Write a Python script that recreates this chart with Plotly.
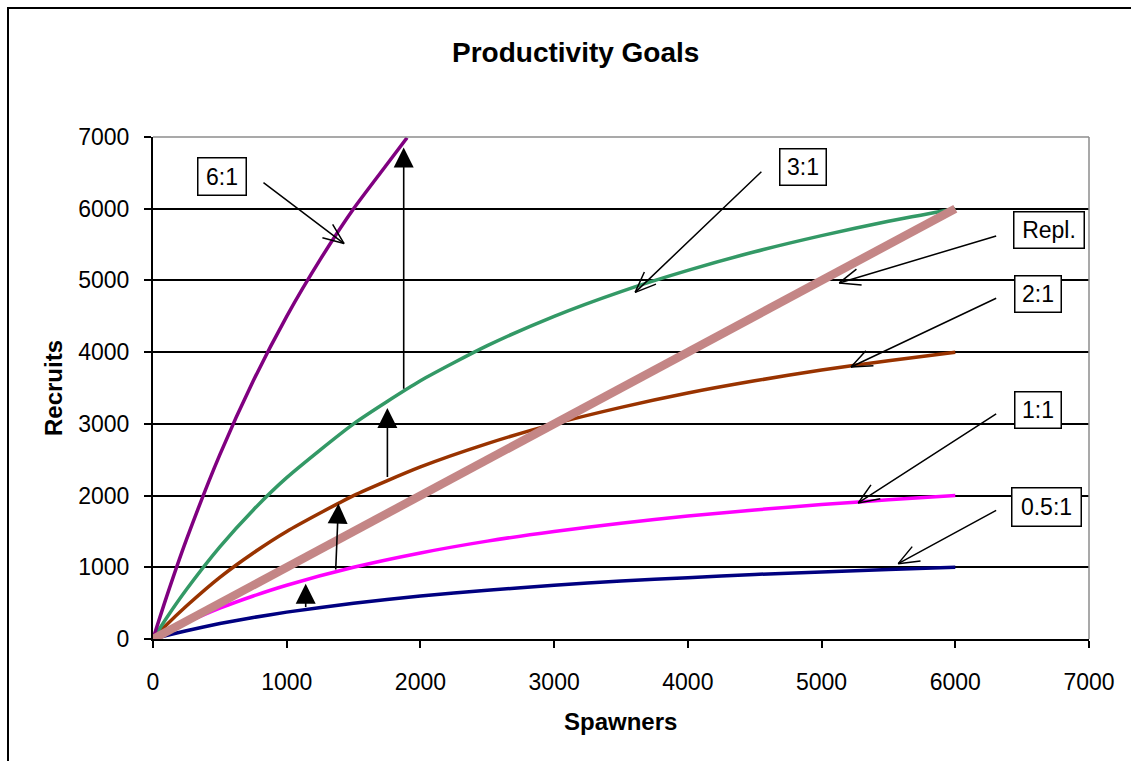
import math
import plotly.graph_objects as go

# Spawner levels at which recruitment was read for each productivity curve
spawners = [0, 100, 250, 500, 750, 1000, 1500, 2000, 2500, 3000, 3500, 4000, 4500, 5000, 5500, 6000]
recruits_half = [0, 48, 115, 215, 300, 375, 500, 600, 680, 750, 810, 855, 900, 935, 970, 1000]
recruits_one = [0, 97, 230, 430, 600, 750, 1000, 1200, 1365, 1500, 1615, 1715, 1800, 1875, 1940, 2000]
recruits_two = [0, 195, 460, 860, 1200, 1500, 2000, 2400, 2725, 3000, 3230, 3430, 3600, 3750, 3880, 4000]
recruits_three = [0, 290, 690, 1285, 1800, 2250, 3000, 3600, 4090, 4500, 4845, 5140, 5400, 5625, 5825, 6000]

spawners_six = [0, 100, 250, 500, 750, 1000, 1250, 1500, 1750, 1900]
recruits_six = [0, 580, 1385, 2570, 3600, 4500, 5290, 6000, 6620, 6990]

# Replacement line (recruits = spawners)
repl_spawners = [0, 6000]
repl_recruits = [0, 6000]

# Curve labels and the pointer arrows leading to each curve
labels = ["6:1", "3:1", "Repl.", "2:1", "1:1", "0.5:1"]
label_x = [514, 4864, 6703, 6615, 6615, 6681]
label_y = [6445, 6588, 5702, 4807, 3189, 1837]
label_w = [50, 48, 72, 48, 48, 71]
label_h = [39, 38, 38, 38, 38, 40]
pointer_from_x = [815, 4561, 6317, 6317, 6317, 6317]
pointer_from_y = [6380, 6536, 5626, 4761, 3152, 1805]
pointer_to_x = [1429, 3606, 5132, 5220, 5274, 5573]
pointer_to_y = [5514, 4833, 4965, 3793, 1897, 1051]

# Goal arrows stepping up from one productivity curve to the next
goal_from_x = [1142, 1366, 1753, 1875]
goal_from_y = [424, 948, 2237, 3468]
goal_to_x = [1142, 1387, 1753, 1875]
goal_to_y = [772, 1888, 3222, 6853]

FONT = "Liberation Sans, Arial, sans-serif"
W, H = 1131, 761
ML, MR, MT, MB = 153, 42, 137, 122
PW, PH = W - ML - MR, H - MT - MB
XMAX, YMAX = 7000, 7000

fig = go.Figure()

series = [
    ("0.5:1", spawners, recruits_half, "#000080", 3.5),
    ("1:1", spawners, recruits_one, "#FF00FF", 3.5),
    ("2:1", spawners, recruits_two, "#993300", 3.5),
    ("3:1", spawners, recruits_three, "#339966", 3.5),
    ("6:1", spawners_six, recruits_six, "#800080", 3.5),
    ("Repl.", repl_spawners, repl_recruits, "#C48686", 8.5),
]
for name, xs, ys, color, width in series:
    fig.add_trace(go.Scatter(
        x=xs, y=ys, mode="lines", name=name,
        line=dict(color=color, width=width, shape="spline", smoothing=0.6),
        showlegend=False, hoverinfo="skip",
    ))

annotations = []

# Chart title and axis titles
def px_to_paper(px, py):
    return (px - ML) / PW, (H - MB - py) / PH

tx, ty = px_to_paper(575, 53)
annotations.append(dict(text="<b>Productivity Goals</b>", x=tx, y=ty, xref="paper", yref="paper",
                        showarrow=False, xanchor="center", yanchor="middle",
                        font=dict(family=FONT, size=28, color="black")))
sx, sy = px_to_paper(620, 721)
annotations.append(dict(text="<b>Spawners</b>", x=sx, y=sy, xref="paper", yref="paper",
                        showarrow=False, xanchor="center", yanchor="middle",
                        font=dict(family=FONT, size=24, color="black")))
rx, ry = px_to_paper(53, 388)
annotations.append(dict(text="<b>Recruits</b>", x=rx, y=ry, xref="paper", yref="paper",
                        showarrow=False, xanchor="center", yanchor="middle", textangle=-90,
                        font=dict(family=FONT, size=24, color="black")))

# Pointer arrows: shaft plus two open-head wings
kx, ky = PW / XMAX, PH / YMAX
wing_len, wing_ang = 24, math.radians(22)
for fx, fy, tx_, ty_ in zip(pointer_from_x, pointer_from_y, pointer_to_x, pointer_to_y):
    annotations.append(dict(text="", x=tx_, y=ty_, ax=fx, ay=fy, xref="x", yref="y",
                            axref="x", ayref="y", showarrow=True, arrowhead=0,
                            arrowwidth=1.5, arrowcolor="black"))
    dx, dy = (tx_ - fx) * kx, -(ty_ - fy) * ky
    n = math.hypot(dx, dy)
    bx, by = -dx / n, -dy / n
    for sgn in (1, -1):
        a = sgn * wing_ang
        wx = bx * math.cos(a) - by * math.sin(a)
        wy = bx * math.sin(a) + by * math.cos(a)
        annotations.append(dict(text="", x=tx_, y=ty_, ax=wing_len * wx, ay=wing_len * wy,
                                xref="x", yref="y", showarrow=True, arrowhead=0,
                                arrowwidth=1.5, arrowcolor="black"))

# Boxed curve labels
for text, lx, ly, bw, bh in zip(labels, label_x, label_y, label_w, label_h):
    annotations.append(dict(text=text, x=lx, y=ly, xref="x", yref="y", showarrow=False,
                            xanchor="center", yanchor="middle", align="center", valign="middle",
                            width=bw - 3, height=bh - 3, borderpad=0, borderwidth=1.5,
                            bordercolor="black", bgcolor="white",
                            font=dict(family=FONT, size=23, color="black")))

# Filled goal arrows
for fx, fy, tx_, ty_ in zip(goal_from_x, goal_from_y, goal_to_x, goal_to_y):
    annotations.append(dict(text="", x=tx_, y=ty_, ax=fx, ay=fy, xref="x", yref="y",
                            axref="x", ayref="y", showarrow=True, arrowhead=2,
                            arrowsize=2.5, arrowwidth=1.6, arrowcolor="black"))

# Outer chart frame and grey plot-area edges
fx0, fy0 = px_to_paper(8, 8)
fx1, fy1 = px_to_paper(1145, 775)
shapes = [
    dict(type="rect", xref="paper", yref="paper", x0=fx0, y0=fy1, x1=fx1, y1=fy0,
         line=dict(color="black", width=2), layer="below"),
    dict(type="line", xref="paper", yref="paper", x0=0, y0=1, x1=1, y1=1,
         line=dict(color="#8C8C8C", width=1.5), layer="above"),
    dict(type="line", xref="paper", yref="paper", x0=1, y0=0, x1=1, y1=1,
         line=dict(color="#8C8C8C", width=1.5), layer="above"),
]

tick_font = dict(family=FONT, size=23, color="black")
fig.update_layout(
    width=W, height=H, autosize=False,
    margin=dict(l=ML, r=MR, t=MT, b=MB, pad=0),
    paper_bgcolor="white", plot_bgcolor="white",
    annotations=annotations, shapes=shapes,
    xaxis=dict(range=[0, XMAX], tickmode="array", tickvals=list(range(0, 7001, 1000)),
               showgrid=False, zeroline=False, showline=True, linecolor="black", linewidth=2,
               ticks="outside", ticklen=7, tickwidth=2, tickcolor="black",
               tickfont=tick_font, ticklabelstandoff=14),
    yaxis=dict(range=[0, YMAX], tickmode="array", tickvals=list(range(0, 7001, 1000)),
               showgrid=True, gridcolor="black", gridwidth=1.8, zeroline=False,
               showline=True, linecolor="black", linewidth=2,
               ticks="outside", ticklen=7, tickwidth=2, tickcolor="black",
               tickfont=tick_font, ticklabelstandoff=10),
)

fig.write_html("out.html")
